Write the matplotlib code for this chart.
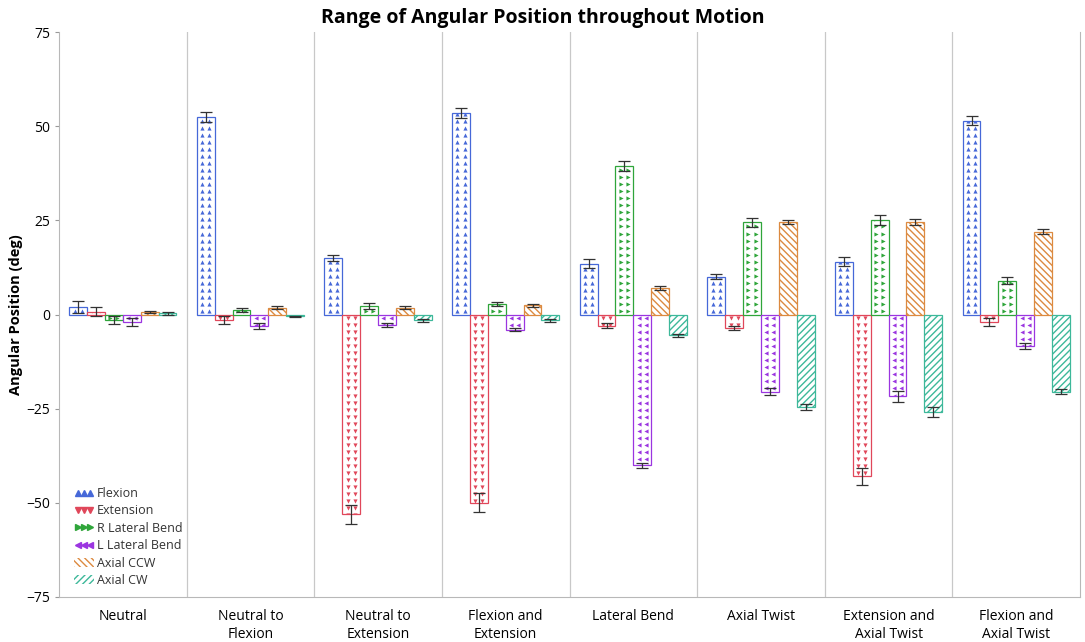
import numpy as np
import matplotlib
matplotlib.use("Agg")
import matplotlib.pyplot as plt
from matplotlib.lines import Line2D
from matplotlib.patches import Patch

plt.rcParams['font.family'] = ['Open Sans', 'DejaVu Sans']

groups = ["Neutral", "Neutral to\nFlexion", "Neutral to\nExtension", "Flexion and\nExtension",
          "Lateral Bend", "Axial Twist", "Extension and\nAxial Twist", "Flexion and\nAxial Twist"]
series = ["Flexion", "Extension", "R Lateral Bend", "L Lateral Bend", "Axial CCW", "Axial CW"]

flexion = [2.0, 52.5, 15.0, 53.5, 13.5, 10.0, 14.0, 51.5]
extension = [0.8, -1.5, -53.0, -50.0, -3.0, -3.5, -43.0, -2.0]
r_lateral = [-1.5, 1.3, 2.3, 2.8, 39.5, 24.5, 25.0, 9.0]
l_lateral = [-2.0, -3.0, -2.8, -4.0, -40.0, -20.5, -21.7, -8.3]
axial_ccw = [0.7, 1.8, 1.8, 2.5, 7.0, 24.5, 24.5, 22.0]
axial_cw = [0.3, -0.5, -1.5, -1.5, -5.5, -24.5, -25.8, -20.5]

flexion_err = [1.5, 1.3, 0.8, 1.3, 1.2, 0.7, 1.2, 1.2]
extension_err = [1.3, 1.0, 2.5, 2.5, 0.7, 0.5, 2.3, 1.0]
r_lateral_err = [1.0, 0.5, 0.8, 0.5, 1.3, 1.2, 1.3, 1.0]
l_lateral_err = [1.0, 0.8, 0.5, 0.5, 0.7, 1.0, 1.5, 0.8]
axial_ccw_err = [0.3, 0.4, 0.4, 0.4, 0.6, 0.6, 0.8, 0.7]
axial_cw_err = [0.3, 0.2, 0.4, 0.4, 0.4, 0.8, 1.3, 0.7]

values = [flexion, extension, r_lateral, l_lateral, axial_ccw, axial_cw]
errors = [flexion_err, extension_err, r_lateral_err, l_lateral_err, axial_ccw_err, axial_cw_err]
colors = ["#4668d8", "#e0475a", "#2fa53a", "#9b35e0", "#dc8a40", "#3db89a"]
# triangle fill for the first four, line hatching for the last two
markers = ["^", "v", ">", "<", None, None]
hatches = [None, None, None, None, "\\\\\\\\\\", "/////"]

fig = plt.figure(figsize=(10.85, 6.42), dpi=100)
ax = fig.add_axes([0.0544, 0.0701, 0.941, 0.880])

x = np.arange(len(groups))
w = 0.14
step = 1.87

for i, name in enumerate(series):
    pos = x + (i - 2.5) * w
    color = colors[i]
    hatch = hatches[i]
    bars = ax.bar(pos, values[i], w, facecolor="white", edgecolor=color,
                  linewidth=0.9, hatch=hatch, zorder=2)
    if markers[i]:
        for b, v, p in zip(bars, values[i], pos):
            ys = np.arange(step * 0.5, abs(v) + step, step) * np.sign(v)
            for dx in (-0.2 * w, 0.2 * w, -0.62 * w):
                pts = ax.scatter(np.full(len(ys), p + dx), ys, marker=markers[i], s=9,
                                 color=color, linewidths=0, zorder=3)
                pts.set_clip_path(b)
    ax.errorbar(pos, values[i], yerr=errors[i], fmt="none", ecolor="#333333",
                elinewidth=0.9, capsize=4.5, capthick=0.9, zorder=4)

for s in x[:-1] + 0.5:
    ax.axvline(s, color="#c8c8c8", linewidth=0.9, zorder=1)

ax.set_xlim(-0.5, len(groups) - 0.5)
ax.set_ylim(-75, 75)
ax.set_yticks([-75, -50, -25, 0, 25, 50, 75])
ax.set_xticks(x)
ax.set_xticklabels(groups, fontsize=10)
ax.tick_params(axis="x", length=0, pad=9)
ax.tick_params(axis="y", length=3, labelsize=10, color="#999999")
for side in ["left", "bottom", "right"]:
    ax.spines[side].set_color("#b8b8b8")
ax.spines["top"].set_visible(False)

ax.set_ylabel("Angular Position (deg)", fontsize=10.5, fontweight="bold", labelpad=2)
fig.text(0.5, 0.972, "Range of Angular Position throughout Motion", fontsize=14,
         fontweight="bold", ha="center", va="center")

handles = []
for i, name in enumerate(series):
    if markers[i]:
        handles.append(Line2D([], [], linestyle="none", marker=markers[i], markersize=4,
                              color=colors[i]))
    else:
        handles.append(Patch(facecolor="white", edgecolor=colors[i], linewidth=0,
                             hatch=hatches[i]))
leg = ax.legend(handles, series, loc="lower left", bbox_to_anchor=(0.005, 0.0), frameon=False,
                fontsize=9, numpoints=3, handlelength=1.6, handletextpad=0.2,
                labelspacing=0.35, borderaxespad=0.4)
for t in leg.get_texts():
    t.set_color("#333333")

fig.savefig("out.png", dpi=100)
